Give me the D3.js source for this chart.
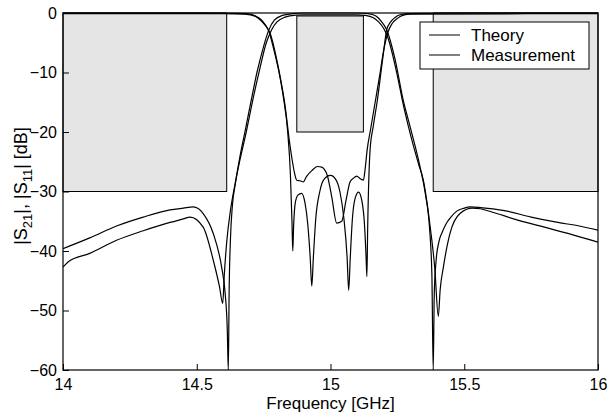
<!DOCTYPE html>
<html><head><meta charset="utf-8">
<script src="https://cdn.jsdelivr.net/npm/d3@7"></script>
<style>
body{margin:0;background:#fff;}
svg{display:block;font-family:"Liberation Sans",Arial,Helvetica,sans-serif;}
</style></head>
<body><svg id="c" width="608" height="418"></svg>
<script>
// ---- data ----
const xTicks = [14, 14.5, 15, 15.5, 16];
const yTicks = [0, -10, -20, -30, -40, -50, -60];
const legendLabels = ["Theory", "Measurement"];

// spec masks: [f0, f1, top dB, bottom dB]
const maskF0 = [14, 14.874, 15.384];
const maskF1 = [14.612, 15.123, 16];
const maskTop = [0, -0.5, 0];
const maskBottom = [-30, -20, -30];

// |S21| theory
const s21TheoryF = [14, 14.1, 14.2, 14.3, 14.4, 14.45, 14.487, 14.524, 14.562, 14.593, 14.606, 14.614, 14.618,
  14.621, 14.626, 14.633, 14.645, 14.66, 14.68, 14.7, 14.725, 14.75, 14.768, 14.79, 14.82, 14.86, 14.9,
  15.0, 15.1, 15.14, 15.17, 15.19, 15.21, 15.24, 15.272, 15.3, 15.335, 15.355, 15.37, 15.379, 15.384,
  15.388, 15.395, 15.405, 15.418, 15.434, 15.45, 15.472, 15.5, 15.521, 15.56, 15.65, 15.75, 15.85, 15.93, 16];
const s21TheoryDb = [-39.6, -37.8, -35.8, -34.3, -33.1, -32.8, -32.6, -33.7, -37.1, -42.7, -47, -53, -60,
  -47, -38, -32.5, -28.5, -24.5, -20, -15.5, -10, -5.6, -3, -1.2, -0.4, -0.1, 0,
  0, 0, -0.1, -0.5, -1.4, -2.8, -7.5, -14.7, -19.5, -25.9, -30.5, -36, -44, -60,
  -47, -41.5, -38.5, -36.8, -35.3, -34.3, -33.3, -32.8, -32.6, -32.7, -33.2, -34.3, -35.2, -35.8, -36.5];

// |S21| measurement
const s21MeasF = [14, 14.02, 14.1, 14.2, 14.3, 14.4, 14.45, 14.475, 14.524, 14.562, 14.585, 14.597,
  14.603, 14.612, 14.625, 14.64, 14.66, 14.685, 14.71, 14.735, 14.76, 14.78, 14.8, 14.83, 14.87, 14.9,
  15.0, 15.1, 15.13, 15.16, 15.18, 15.2, 15.215, 15.245, 15.275, 15.305, 15.33, 15.347, 15.37, 15.39, 15.403,
  15.41, 15.422, 15.447, 15.484, 15.53, 15.56, 15.6, 15.7, 15.8, 15.9, 16];
const s21MeasDb = [-42.7, -41.8, -40.4, -38.2, -36.6, -35.2, -34.6, -34.3, -36, -41.6, -46, -48.8,
  -44, -38.5, -33.5, -29.5, -25, -20, -14.5, -9.5, -5, -2.8, -1.5, -0.7, -0.35, -0.3,
  -0.3, -0.3, -0.4, -0.8, -1.5, -2.7, -4.2, -9.5, -16, -21.5, -25.5, -28.1, -35, -43, -51,
  -46.5, -42.7, -37, -33.7, -32.8, -32.9, -33.4, -34.8, -36, -37.2, -38.5];

// |S11| theory
const s11TheoryF = [14, 14.5, 14.65, 14.7, 14.72, 14.74, 14.755, 14.768, 14.79, 14.81, 14.825, 14.84, 14.85,
  14.856, 14.859, 14.862, 14.868, 14.878, 14.892, 14.905, 14.915, 14.924, 14.93, 14.936, 14.945, 14.96,
  14.975, 15.0, 15.02, 15.035, 15.05, 15.062, 15.068, 15.074, 15.082, 15.093, 15.105, 15.117, 15.127,
  15.133, 15.136, 15.139, 15.148, 15.16, 15.175, 15.19, 15.2, 15.21, 15.225, 15.24, 15.26, 15.3, 15.5, 16];
const s11TheoryDb = [0, 0, -0.05, -0.2, -0.5, -1.1, -1.9, -2.9, -6.5, -10.5, -14.5, -20, -27,
  -35, -40, -36, -32, -30.6, -30.3, -32, -35.5, -41, -45.9, -41, -34.5, -30,
  -28, -27.3, -28, -30, -34.5, -41, -46.6, -41, -34.5, -31, -30.1, -31.5, -35.5,
  -41, -44.3, -36, -23, -19, -14.7, -9.5, -6, -2.8, -1.5, -0.8, -0.3, -0.1, 0, 0];

// |S11| measurement
const s11MeasF = [14, 14.6, 14.68, 14.72, 14.745, 14.76, 14.775, 14.795, 14.815, 14.83, 14.846, 14.856,
  14.866, 14.874, 14.886, 14.898, 14.91, 14.93, 14.951, 14.967, 14.988, 15.005, 15.023, 15.042, 15.058,
  15.073, 15.085, 15.098, 15.11, 15.123, 15.13, 15.137, 15.15, 15.165, 15.182, 15.2, 15.215, 15.23, 15.25,
  15.27, 15.3, 16];
const s11MeasDb = [-0.1, -0.1, -0.2, -0.6, -1.5, -2.3, -3.5, -7, -11.5, -15.5, -21.4, -24.5,
  -27, -28.1, -28.2, -28.4, -27.5, -26.5, -25.8, -25.9, -27.3, -31, -35.3, -35, -31.5,
  -28.4, -27.8, -27.4, -27.8, -28.1, -26, -23, -19.5, -15.5, -11, -6, -3.2, -1.8, -0.9,
  -0.4, -0.2, -0.1];

// ---- chart ----
const svg = d3.select("#c");
const L = 63, R = 598, T = 13, B = 370;
const x = d3.scaleLinear().domain([14, 16]).range([L, R]);
const y = d3.scaleLinear().domain([-60, 0]).range([B, T]);

// masks
const g = svg.append("g");
maskF0.forEach((f0, i) => {
  g.append("rect")
    .attr("x", x(f0)).attr("y", y(maskTop[i]))
    .attr("width", x(maskF1[i]) - x(f0))
    .attr("height", y(maskBottom[i]) - y(maskTop[i]))
    .attr("fill", "#e5e5e5").attr("stroke", "#000").attr("stroke-width", 1);
});

// curves
const line = d3.line().x(d => x(d[0])).y(d => y(d[1])).curve(d3.curveMonotoneX);
const clip = svg.append("clipPath").attr("id", "clp").append("rect")
  .attr("x", L).attr("y", T - 1).attr("width", R - L).attr("height", B - T + 1);
const series = [
  [s21TheoryF, s21TheoryDb],
  [s21MeasF, s21MeasDb],
  [s11TheoryF, s11TheoryDb],
  [s11MeasF, s11MeasDb]
];
const cg = svg.append("g").attr("clip-path", "url(#clp)");
series.forEach(([fs, vs]) => {
  cg.append("path")
    .attr("d", line(fs.map((f, i) => [f, vs[i]])))
    .attr("fill", "none").attr("stroke", "#000").attr("stroke-width", 1.2);
});

// axes
const ax = svg.append("g").attr("transform", `translate(0,${B})`)
  .call(d3.axisBottom(x).tickValues(xTicks).tickFormat(d3.format("")).tickSizeInner(-6).tickSizeOuter(0).tickPadding(9));
const ay = svg.append("g").attr("transform", `translate(${L},0)`)
  .call(d3.axisLeft(y).tickValues(yTicks).tickFormat(d3.format("")).tickSizeInner(-6).tickSizeOuter(0).tickPadding(6));
[ax, ay].forEach(a => {
  a.select(".domain").remove();
  a.selectAll("text").attr("font-size", 16).attr("fill", "#000")
    .attr("font-family", "'Liberation Sans',Arial,sans-serif");
  a.selectAll("line").attr("stroke", "#000");
});

// frame
svg.append("rect").attr("x", L).attr("y", T).attr("width", R - L).attr("height", B - T)
  .attr("fill", "none").attr("stroke", "#000").attr("stroke-width", 1.2);

// axis titles
svg.append("text").attr("x", (L + R) / 2).attr("y", 409).attr("text-anchor", "middle")
  .attr("font-size", 17).text("Frequency [GHz]");
const yl = svg.append("text").attr("transform", `translate(27,186) rotate(-90)`)
  .attr("text-anchor", "middle").attr("font-size", 18);
yl.append("tspan").text("|S");
yl.append("tspan").attr("font-size", 13).attr("dy", 5).text("21");
yl.append("tspan").attr("dy", -5).text("|, |S");
yl.append("tspan").attr("font-size", 13).attr("dy", 5).text("11");
yl.append("tspan").attr("dy", -5).text("| [dB]");

// legend
const lg = svg.append("g");
lg.append("rect").attr("x", 420).attr("y", 22).attr("width", 169).attr("height", 47)
  .attr("fill", "#fff").attr("stroke", "#000").attr("stroke-width", 1);
legendLabels.forEach((t, i) => {
  const yy = 35 + i * 20;
  lg.append("line").attr("x1", 429).attr("x2", 460).attr("y1", yy).attr("y2", yy)
    .attr("stroke", "#000").attr("stroke-width", 1);
  lg.append("text").attr("x", 471).attr("y", yy + 6).attr("font-size", 17).text(t);
});
</script></body></html>
